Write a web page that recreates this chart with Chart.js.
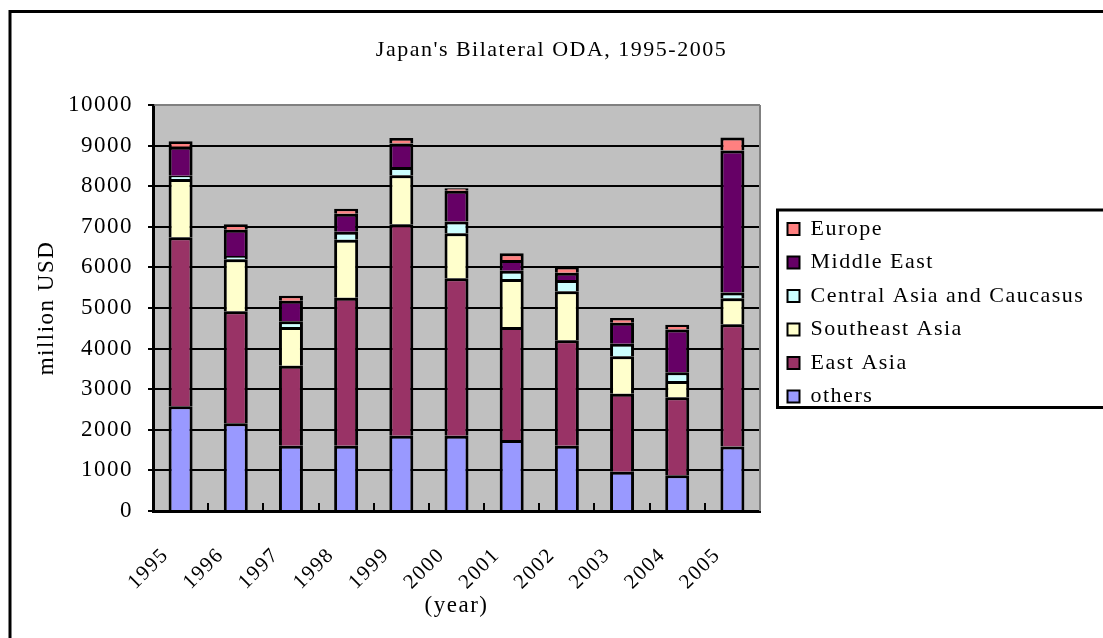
<!DOCTYPE html>
<html>
<head>
<meta charset="utf-8">
<title>Japan's Bilateral ODA, 1995-2005</title>
<script src="https://cdn.jsdelivr.net/npm/chart.js@4.4.1/dist/chart.umd.min.js"></script>
<style>
  html, body { margin: 0; padding: 0; background: #fff; overflow: hidden; }
  canvas { display: block; }
</style>
</head>
<body>
<canvas id="myChart" width="1103" height="638"></canvas>
<script>
// values, million USD
const years = ['1995', '1996', '1997', '1998', '1999', '2000', '2001', '2002', '2003', '2004', '2005'];
const others = [2580, 2160, 1610, 1610, 1855, 1855, 1750, 1610, 965, 880, 1590];
const eastAsia = [4160, 2760, 1970, 3640, 5210, 3875, 2785, 2595, 1920, 1920, 3010];
const southeastAsia = [1440, 1280, 950, 1430, 1205, 1110, 1180, 1210, 925, 400, 640];
const centralAsia = [80, 80, 145, 200, 205, 290, 205, 275, 310, 220, 140];
const middleEast = [710, 645, 505, 440, 575, 760, 260, 180, 515, 1050, 3500];
const europe = [140, 140, 120, 125, 140, 60, 170, 150, 120, 120, 320];

const serif = "'Liberation Serif', 'Times New Roman', serif";
Chart.defaults.font.family = serif;
Chart.defaults.color = '#000';

function series(label, data, color) {
  return {
    label: label,
    data: data,
    backgroundColor: color,
    borderColor: '#000',
    borderWidth: 3,
    categoryPercentage: 1,
    barPercentage: 0.435
  };
}

// horizontal gridlines from the y scale ticks
function drawGridlines(chart) {
  const { ctx, chartArea: a } = chart;
  const yScale = chart.scales.y;
  ctx.lineWidth = 2;
  ctx.setLineDash([]);
  ctx.globalAlpha = 1;
  ctx.globalCompositeOperation = 'source-over';
  yScale.ticks.forEach(t => {
    const py = Math.round(yScale.getPixelForValue(t.value));
    ctx.strokeStyle = t.value === 10000 ? '#808080' : '#000000';
    ctx.beginPath();
    ctx.moveTo(a.left + 1.5, py);
    ctx.lineTo(a.right, py);
    ctx.stroke();
  });
}

// plot background, gridlines, legend frame, outer frame
const framePlugin = {
  id: 'frame',
  beforeUpdate(chart) {
    chart.ctx.letterSpacing = '1.5px';
  },
  beforeLayout(chart) {
    const lg = chart.legend;
    if (lg && !lg._fixed) {
      const fit = lg.fit.bind(lg);
      lg.fit = function () {
        fit();
        this.width = 343;
      };
      lg._fixed = true;
    }
  },
  afterLayout(chart) {
    const lg = chart.legend;
    lg.left = 776;
    lg.right = 1103;
    lg.top = 206.5;
    lg.bottom = 420;
  },
  beforeDraw(chart) {
    const { ctx, chartArea: a } = chart;
    ctx.letterSpacing = '1.5px';
    ctx.save();
    ctx.fillStyle = '#c0c0c0';
    ctx.fillRect(a.left, a.top, a.width, a.height);
    ctx.restore();
  },
  beforeDatasetsDraw(chart) {
    const ctx = chart.ctx;
    ctx.save();
    drawGridlines(chart);
    ctx.restore();
  },
  afterDraw(chart) {
    const { ctx, chartArea: a } = chart;
    const lg = chart.legend;
    const metas = chart.getSortedVisibleDatasetMetas();
    // gridlines again on top, with the bar columns clipped out
    ctx.save();
    ctx.beginPath();
    ctx.rect(a.left, a.top - 2, a.width, a.height + 2);
    chart.data.labels.forEach((lab, i) => {
      let top = a.bottom, left = null, width = 0;
      metas.forEach(m => {
        const el = m.data[i];
        if (!el) return;
        top = Math.min(top, el.y);
        left = el.x - el.width / 2;
        width = el.width;
      });
      if (left !== null) ctx.rect(left, top, width, a.bottom - top);
    });
    ctx.clip('evenodd');
    drawGridlines(chart);
    ctx.restore();
    ctx.save();
    // right edge of the plot
    ctx.strokeStyle = '#808080';
    ctx.lineWidth = 2;
    ctx.beginPath();
    ctx.moveTo(a.right, a.top);
    ctx.lineTo(a.right, a.bottom);
    ctx.stroke();
    // legend box
    ctx.strokeStyle = '#000';
    ctx.lineWidth = 3;
    ctx.strokeRect(lg.left + 1.5, lg.top + 3.5, 400, 197.5);
    // outer frame
    ctx.beginPath();
    ctx.moveTo(10, 700);
    ctx.lineTo(10, 11.5);
    ctx.lineTo(1200, 11.5);
    ctx.stroke();
    ctx.restore();
  }
};

const ctx = document.getElementById('myChart').getContext('2d');
const myChart = new Chart(ctx, {
  type: 'bar',
  data: {
    labels: years,
    datasets: [
      series('others', others, '#9999ff'),
      series('East Asia', eastAsia, '#993366'),
      series('Southeast Asia', southeastAsia, '#ffffcc'),
      series('Central Asia and Caucasus', centralAsia, '#ccffff'),
      series('Middle East', middleEast, '#660066'),
      series('Europe', europe, '#ff8080')
    ]
  },
  options: {
    responsive: false,
    animation: false,
    layout: { padding: 0 },
    plugins: {
      title: {
        display: true,
        text: "Japan's Bilateral ODA, 1995-2005",
        font: { size: 22, weight: 'normal' },
        color: '#000',
        padding: { top: 37, bottom: 41.6 }
      },
      legend: {
        position: 'right',
        align: 'start',
        reverse: true,
        labels: {
          font: { size: 22 },
          color: '#000',
          boxWidth: 12,
          boxHeight: 12,
          padding: 11.5,
          generateLabels(chart) {
            const items = Chart.defaults.plugins.legend.labels.generateLabels(chart);
            items.forEach(i => { i.lineWidth = 2; });
            return items;
          }
        }
      },
      tooltip: { enabled: false }
    },
    scales: {
      x: {
        stacked: true,
        afterFit(scale) { scale.height = 127; },
        border: { color: '#000', width: 3 },
        grid: {
          drawOnChartArea: false,
          drawTicks: true,
          tickLength: -8,
          color: '#000',
          lineWidth: 2
        },
        ticks: {
          font: { size: 21 },
          color: '#000',
          minRotation: 45,
          maxRotation: 45,
          labelOffset: -15,
          padding: 40
        },
        title: {
          display: true,
          text: '(year)',
          font: { size: 23 },
          color: '#000',
          padding: { top: 0, bottom: 18.6 }
        }
      },
      y: {
        stacked: true,
        min: 0,
        max: 10000,
        afterFit(scale) { scale.width = 153; },
        border: { color: '#000', width: 3 },
        grid: {
          drawOnChartArea: false,
          color: '#000',
          lineWidth: 2,
          tickLength: 5
        },
        ticks: {
          stepSize: 1000,
          font: { size: 23 },
          color: '#000',
          padding: 15,
          callback: v => String(v)
        },
        title: {
          display: true,
          text: 'million USD',
          font: { size: 23 },
          color: '#000',
          padding: { top: 33.6, bottom: 0 }
        }
      }
    }
  },
  plugins: [framePlugin]
});
</script>
</body>
</html>
